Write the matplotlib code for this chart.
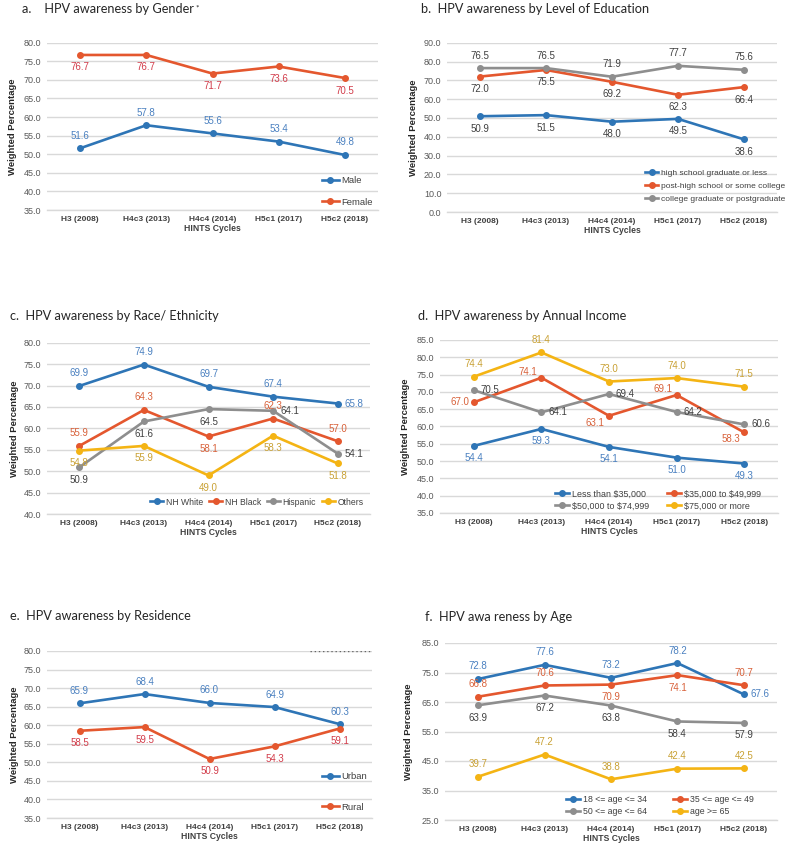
import matplotlib
matplotlib.use("Agg")
import matplotlib.pyplot as plt

cycles = ["H3 (2008)", "H4c3 (2013)", "H4c4 (2014)", "H5c1 (2017)", "H5c2 (2018)"]

# a. Gender
male = [51.6, 57.8, 55.6, 53.4, 49.8]
female = [76.7, 76.7, 71.7, 73.6, 70.5]
# b. Education
edu_hs = [50.9, 51.5, 48.0, 49.5, 38.6]
edu_post = [72.0, 75.5, 69.2, 62.3, 66.4]
edu_college = [76.5, 76.5, 71.9, 77.7, 75.6]
# c. Race / Ethnicity
race_white = [69.9, 74.9, 69.7, 67.4, 65.8]
race_black = [55.9, 64.3, 58.1, 62.3, 57.0]
race_hisp = [50.9, 61.6, 64.5, 64.1, 54.1]
race_other = [54.8, 55.9, 49.0, 58.3, 51.8]
# d. Income
inc_lt35 = [54.4, 59.3, 54.1, 51.0, 49.3]
inc_35_49 = [67.0, 74.1, 63.1, 69.1, 58.3]
inc_50_74 = [70.5, 64.1, 69.4, 64.2, 60.6]
inc_75p = [74.4, 81.4, 73.0, 74.0, 71.5]
# e. Residence
urban = [65.9, 68.4, 66.0, 64.9, 60.3]
rural = [58.5, 59.5, 50.9, 54.3, 59.1]
# f. Age
age_18_34 = [72.8, 77.6, 73.2, 78.2, 67.6]
age_35_49 = [66.8, 70.6, 70.9, 74.1, 70.7]
age_50_64 = [63.9, 67.2, 63.8, 58.4, 57.9]
age_65p = [39.7, 47.2, 38.8, 42.4, 42.5]

BLUE = "#2E75B6"
RED = "#E4572E"
GRAY = "#8E8E8E"
GOLD = "#F4B414"
LBLUE = "#4A80C0"
LRED = "#D23C4A"
LORANGE = "#D8613A"
DARK = "#404040"
LGOLD = "#C9A134"

TICKC = "#595959"
GRIDC = "#D9D9D9"
NARROW = ["Liberation Sans", "DejaVu Sans"]
TITLEF = ["Lato", "DejaVu Sans"]

fig = plt.figure(figsize=(8.0, 8.49), dpi=100)
renderer = fig.canvas.get_renderer()

OFF = {"a": (0, 9), "b": (0, -9), "r": (5, 0), "l": (-3, 0),
       "al": (-3, 4), "bl": (-3, -5)}

H = 849.0
W = 800.0


def make_ax(rect, ylim, step, title, title_xy, ylab_x, star=False):
    ax = fig.add_axes(rect)
    ax.set_xlim(-0.5, 4.5)
    ax.set_ylim(*ylim)
    ticks = []
    v = ylim[0]
    while v <= ylim[1] + 1e-6:
        ticks.append(v)
        v += step
    ax.set_yticks(ticks)
    ax.set_yticklabels([f"{t:.1f}" for t in ticks], fontsize=6.5, color=TICKC,
                       family=NARROW)
    ax.set_xticks(range(len(cycles)))
    ax.set_xticklabels(cycles, fontsize=6, color=DARK, family=NARROW,
                       fontweight="bold")
    ax.tick_params(length=0, pad=4)
    for s in ["top", "right", "left"]:
        ax.spines[s].set_visible(False)
    ax.spines["bottom"].set_color(GRIDC)
    ax.spines["bottom"].set_linewidth(1.0)
    ax.yaxis.grid(True, color=GRIDC, linewidth=1.0)
    ax.set_axisbelow(True)
    ax.set_xlabel("HINTS Cycles", fontsize=6.2, fontweight="bold", color=DARK,
                  family=NARROW, labelpad=1)
    ax.set_ylabel("Weighted Percentage", fontsize=6.8, fontweight="bold",
                  color="#262626", family=NARROW)
    ax.yaxis.set_label_coords(ylab_x, 0.5)
    t = fig.text(title_xy[0], title_xy[1], title, fontsize=9.2, color="#262626",
                 family=TITLEF, va="center", ha="left")
    if star:
        bb = t.get_window_extent(renderer)
        fig.text(bb.x1 / W + 0.002, bb.y1 / H - 0.002, "*", fontsize=6,
                 color="#262626", family=TITLEF, va="top", ha="left")
    return ax


def series(ax, vals, color, lcolor, pos, label):
    x = list(range(len(vals)))
    ax.plot(x, vals, color=color, lw=1.9, marker="o", ms=4,
            mfc=color, mec=color, label=label, zorder=3)
    for i, v in enumerate(vals):
        p = pos[i] if isinstance(pos, list) else pos
        dx, dy = OFF[p]
        ha = "center"
        if p == "r":
            ha = "left"
        elif p in ("l", "al", "bl"):
            ha = "right"
        ax.annotate(f"{v:.1f}", (i, v), xytext=(dx, dy),
                    textcoords="offset points", ha=ha, va="center",
                    fontsize=7, color=lcolor, family=NARROW, zorder=4)


def legend(ax, handles, labels, ncol, anchor, spacing=0.5, colsp=1.0,
           size=6.5, hl=2.0):
    lg = ax.legend(handles, labels, ncol=ncol, loc="center left",
                   bbox_to_anchor=anchor, frameon=False,
                   handlelength=hl, handletextpad=0.3, labelspacing=spacing,
                   columnspacing=colsp, borderpad=0, borderaxespad=0,
                   prop={"family": NARROW, "size": size})
    for t in lg.get_texts():
        t.set_color(DARK)
    return lg


def rect(l, r, t, b):
    return [l / W, 1 - b / H, (r - l) / W, (b - t) / H]


# a
ax = make_ax(rect(47, 378, 42.7, 210), (35, 80), 5,
             "a.    HPV awareness by Gender", (22 / W, 1 - 9 / H), -0.09, star=True)
series(ax, male, BLUE, LBLUE, "a", "Male")
series(ax, female, RED, LRED, "b", "Female")
h = ax.get_legend_handles_labels()
legend(ax, h[0], h[1], 1, (0.83, 0.11), spacing=1.3, hl=1.8, size=6.8)

# b
ax = make_ax(rect(447, 777, 42.7, 212), (0, 90), 10,
             "b.  HPV awareness by Level of Education", (421 / W, 1 - 9 / H), -0.088)
series(ax, edu_hs, BLUE, DARK, "b", "high school graduate or less")
series(ax, edu_post, RED, DARK, "b", "post-high school or some college")
series(ax, edu_college, GRAY, DARK, "a", "college graduate or postgraduate")
h = ax.get_legend_handles_labels()
legend(ax, h[0], h[1], 1, (0.6, 0.155), spacing=0.6, size=6, hl=1.6)

# c
ax = make_ax(rect(47, 370, 342.7, 514), (40, 80), 5,
             "c.  HPV awareness by Race/ Ethnicity", (10 / W, 1 - 316 / H), -0.087)
series(ax, race_white, BLUE, LBLUE, ["a", "a", "a", "a", "r"], "NH White")
series(ax, race_black, RED, LORANGE, ["a", "a", "b", "a", "a"], "NH Black")
series(ax, race_hisp, GRAY, DARK, ["b", "b", "b", "r", "r"], "Hispanic")
series(ax, race_other, GOLD, LGOLD, "b", "Others")
h = ax.get_legend_handles_labels()
legend(ax, h[0], h[1], 4, (0.32, 0.07), colsp=0.7, size=6.2, hl=1.5)

# d
ax = make_ax(rect(440, 778, 340, 513), (35, 85), 5,
             "d.  HPV awareness by Annual Income", (418 / W, 1 - 316 / H), -0.089)
series(ax, inc_lt35, BLUE, LBLUE, "b", "Less than $35,000")
series(ax, inc_35_49, RED, LORANGE, ["l", "al", "bl", "al", "bl"], r"\$35,000 to \$49,999")
series(ax, inc_50_74, GRAY, DARK, "r", r"\$50,000 to \$74,999")
series(ax, inc_75p, GOLD, LGOLD, "a", r"\$75,000 or more")
h, lab = ax.get_legend_handles_labels()
lab[0] = r"Less than \$35,000"
order = [0, 2, 1, 3]
legend(ax, [h[i] for i in order], [lab[i] for i in order], 2, (0.34, 0.075),
       spacing=0.35, colsp=2.0, size=6.4, hl=1.6)

# e
ax = make_ax(rect(47, 372, 651, 818), (35, 80), 5,
             "e.  HPV awareness by Residence", (10 / W, 1 - 616 / H), -0.087)
series(ax, urban, BLUE, LBLUE, "a", "Urban")
series(ax, rural, RED, LRED, "b", "Rural")
ax.axhline(80, xmin=0.81, xmax=1.0, color="#666666", lw=1.0, ls=(0, (1, 2)))
h = ax.get_legend_handles_labels()
legend(ax, h[0], h[1], 1, (0.845, 0.157), spacing=2.3, hl=1.8, size=6.8)

# f
ax = make_ax(rect(445, 777, 643, 820), (25, 85), 10,
             "f.  HPV awa reness by Age", (425 / W, 1 - 617 / H), -0.096)
series(ax, age_18_34, BLUE, LBLUE, ["a", "a", "a", "a", "r"], "18 <= age <= 34")
series(ax, age_35_49, RED, LORANGE, ["a", "a", "b", "b", "a"], "35 <= age <= 49")
series(ax, age_50_64, GRAY, DARK, "b", "50 <= age <= 64")
series(ax, age_65p, GOLD, LGOLD, "a", "age >= 65")
h, lab = ax.get_legend_handles_labels()
legend(ax, [h[i] for i in order], [lab[i] for i in order], 2, (0.365, 0.08),
       spacing=0.35, colsp=3.0, size=6.3, hl=1.6)

fig.savefig("out.png", dpi=100, facecolor="white")
